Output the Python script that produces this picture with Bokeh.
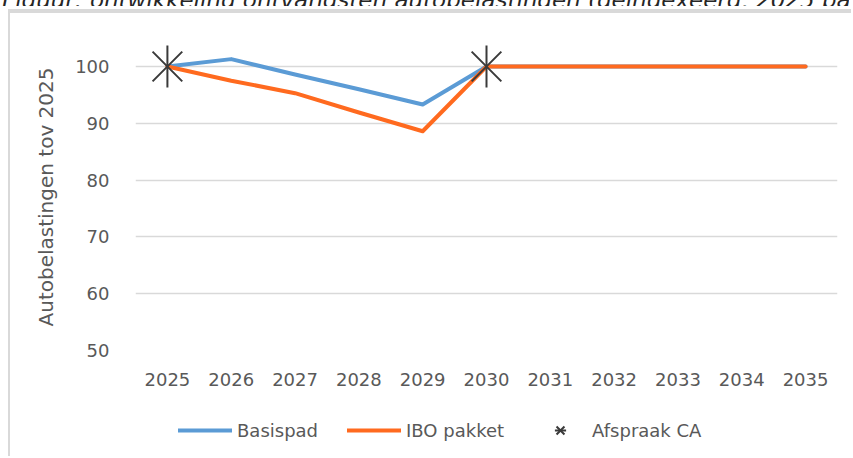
from bokeh.plotting import figure
from bokeh.layouts import column
from bokeh.models import (Range1d, FixedTicker, Legend, LegendItem, ColumnDataSource, Div)
from bokeh.embed import file_html
from bokeh.resources import INLINE
import numpy as np

# ---- data ----
years = [2025, 2026, 2027, 2028, 2029, 2030, 2031, 2032, 2033, 2034, 2035]
basispad = [100, 101.3, 98.6, 96.0, 93.3, 100, 100, 100, 100, 100, 100]
ibo_pakket = [100, 97.5, 95.3, 91.9, 88.6, 100, 100, 100, 100, 100, 100]
afspraak_years = [2025, 2030]
afspraak_values = [100, 100]
y_ticks = [50, 60, 70, 80, 90, 100]
series_labels = ["Basispad", "IBO pakket", "Afspraak CA"]
title_text = "Figuur: ontwikkeling ontvangsten autobelastingen (geïndexeerd, 2025 ba"

font = "DejaVu Sans"
tick_color = "#595959"
blue = "#5B9BD5"
orange = "#FF6A1F"
star_color = "#3a3a3a"
box_color = "#d9d9d9"
box_css = "2px solid " + box_color

# ---- caption strip (only the lower part of the caption is visible) ----
ft = Div(text='<span style="display:block;white-space:nowrap;margin-top:-15px;margin-left:6px;'
              'font-family:\'DejaVu Sans\';font-style:italic;font-size:23px;'
              'line-height:23px;color:#262626;">' + title_text + '</span>',
         width=853, height=10,
         styles={"overflow": "hidden", "height": "10px", "margin": "0", "padding": "0"})

# ---- main chart ----
p = figure(width=843, height=387, output_backend="svg", toolbar_location=None,
           x_range=Range1d(2024.5, 2035.5), y_range=Range1d(50, 104.05),
           min_border_left=125, min_border_right=16, min_border_top=30,
           min_border_bottom=50, background_fill_color="white",
           border_fill_color="white", outline_line_color=None)
p.styles = {"border-top": box_css, "border-left": box_css,
            "box-shadow": "0 -2px 0 " + box_color,
            "position": "relative", "left": "4px", "top": "4px"}
p.margin = (1, 0, 0, 8)

p.xaxis.ticker = FixedTicker(ticks=years)
p.yaxis.ticker = FixedTicker(ticks=y_ticks)
for ax in (p.xaxis[0], p.yaxis[0]):
    ax.axis_line_color = None
    ax.major_tick_line_color = None
    ax.minor_tick_line_color = None
    ax.major_label_text_font = font
    ax.major_label_text_font_size = "18px"
    ax.major_label_text_color = tick_color
p.xaxis.major_label_standoff = 16
p.yaxis.major_label_standoff = 20
p.yaxis.axis_label = "Autobelastingen tov 2025"
p.yaxis.axis_label_text_font = font
p.yaxis.axis_label_text_font_size = "20px"
p.yaxis.axis_label_text_font_style = "normal"
p.yaxis.axis_label_text_color = tick_color
p.yaxis.axis_label_standoff = 14
p.xgrid.grid_line_color = None
p.ygrid.grid_line_color = "#d9d9d9"
p.ygrid.grid_line_width = 1.5

p.line(years, basispad, line_color=blue, line_width=4, line_join="round", line_cap="round")
p.line(years, ibo_pakket, line_color=orange, line_width=4, line_join="round", line_cap="round")
src = ColumnDataSource(dict(x=afspraak_years, y=afspraak_values))
p.scatter("x", "y", source=src, marker="x", size=42, line_color=star_color, line_width=2)
p.scatter("x", "y", source=src, marker="dash", size=42, angle=np.pi / 2,
          line_color=star_color, line_width=2)

# ---- legend strip (its renderers share the data but lie outside its ranges) ----
fl = figure(width=843, height=58, output_backend="svg", toolbar_location=None,
            x_range=Range1d(0, 1), y_range=Range1d(0, 1), min_border=0,
            outline_line_color=None, border_fill_color="white")
fl.styles = {"border-left": box_css, "position": "relative", "left": "4px", "top": "4px"}
fl.margin = (0, 0, 0, 8)
fl.axis.visible = False
fl.grid.visible = False
lb = fl.line(years, basispad, line_color=blue, line_width=4, line_cap="round")
lo = fl.line(years, ibo_pakket, line_color=orange, line_width=4, line_cap="round")
lsrc = ColumnDataSource(dict(x=afspraak_years, y=afspraak_values))
lx = fl.scatter("x", "y", source=lsrc, marker="x", line_color=star_color, line_width=2)
lv = fl.scatter("x", "y", source=lsrc, marker="dash", angle=np.pi / 2,
                line_color=star_color, line_width=2)
legend = Legend(items=[LegendItem(label=series_labels[0], renderers=[lb]),
                       LegendItem(label=series_labels[1], renderers=[lo]),
                       LegendItem(label=series_labels[2], renderers=[lx, lv])],
                orientation="horizontal", location=(43, 12),
                glyph_width=54, glyph_height=28, label_text_font=font,
                label_text_font_size="18px", label_text_color=tick_color,
                spacing=29, label_standoff=5, border_line_color=None,
                background_fill_alpha=0, padding=0, margin=0)
fl.add_layout(legend)

page = column(ft, p, fl, spacing=0)
page.margin = (-4, 0, 0, -4)

open("out.html", "w").write(file_html(page, INLINE))
